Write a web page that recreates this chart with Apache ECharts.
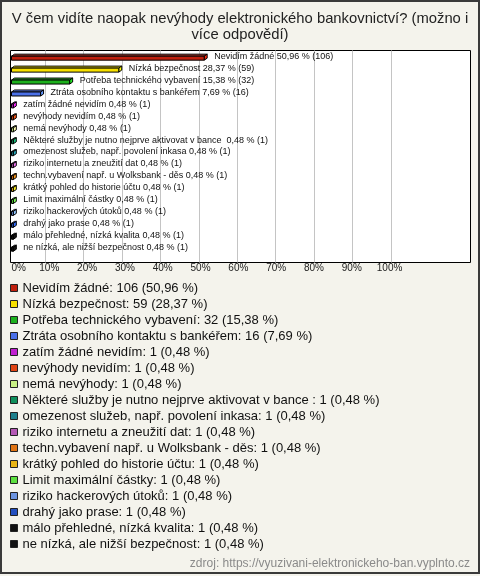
<!DOCTYPE html>
<html><head><meta charset="utf-8">
<script src="https://cdn.jsdelivr.net/npm/echarts@6/dist/echarts.min.js"></script>
<style>html,body{margin:0;padding:0;background:#f4f3ec}#c{width:480px;height:576px}</style>
</head><body><div id="c"></div>
<script>
const titleText = 'V čem vidíte naopak nevýhody elektronického bankovnictví? (možno i\nvíce odpovědí)';
const categories = [
  'Nevidím žádné', 'Nízká bezpečnost', 'Potřeba technického vybavení', 'Ztráta osobního kontaktu s bankéřem',
  'zatím žádné nevidím', 'nevýhody nevidím', 'nemá nevýhody', 'Některé služby je nutno nejprve aktivovat v bance ',
  'omezenost služeb, např. povolení inkasa', 'riziko internetu a zneužití dat', 'techn.vybavení např. u Wolksbank - děs',
  'krátký pohled do historie účtu', 'Limit maximální částky', 'riziko hackerových útoků', 'drahý jako prase',
  'málo přehledné, nízká kvalita', 'ne nízká, ale nižší bezpečnost'
];
const counts = [106, 59, 32, 16, 1, 1, 1, 1, 1, 1, 1, 1, 1, 1, 1, 1, 1];
const percents = [50.96, 28.37, 15.38, 7.69, 0.48, 0.48, 0.48, 0.48, 0.48, 0.48, 0.48, 0.48, 0.48, 0.48, 0.48, 0.48, 0.48];
const colors = ['#c0200e', '#f7e000', '#1cb01c', '#4a70e8', '#c020d0', '#e04414', '#c8f084', '#10905c',
  '#1e7f8c', '#b458b4', '#e07414', '#e8b414', '#5ce040', '#6c94e0', '#2450c0', '#111111', '#111111'];
const tickValues = [0, 10, 20, 30, 40, 50, 60, 70, 80, 90, 100];
const sourceText = 'zdroj: https://vyuzivani-elektronickeho-ban.vyplnto.cz';

const FONT = '"Liberation Sans", Arial, sans-serif';
const fmtPct = v => v.toFixed(2).replace('.', ',');

function renderBar(params, api) {
  const v = api.value(0), ci = api.value(1);
  const p0 = api.coord([0, ci]);
  const p1 = api.coord([v, ci]);
  const yc = p0[1];
  const x0 = p0[0], x1 = p1[0];
  const dx = 3, dy = 2, h = 4;
  const yTop = yc - 0.8, yBot = yTop + h;
  const col = api.visual('color');
  const light = echarts.color.lift(col, 0.15);
  const dark = echarts.color.lift(col, -0.35);
  const st = {stroke: '#000', lineWidth: 1};
  const i = params.seriesIndex;
  return {
    type: 'group',
    children: [
      {type: 'polygon', shape: {points: [[x0, yTop], [x0 + dx, yTop - dy], [x1 + dx, yTop - dy], [x1, yTop]]}, style: Object.assign({fill: light}, st)},
      {type: 'polygon', shape: {points: [[x1, yTop], [x1 + dx, yTop - dy], [x1 + dx, yBot - dy], [x1, yBot]]}, style: Object.assign({fill: dark}, st)},
      {type: 'rect', shape: {x: x0, y: yTop, width: x1 - x0, height: h}, style: Object.assign({fill: col}, st)},
      {type: 'text', x: x1 + dx + 7, y: yc - 0.5, style: {
        text: categories[i] + ' ' + fmtPct(percents[i]) + ' % (' + counts[i] + ')',
        fill: '#111', font: '9px ' + FONT, verticalAlign: 'middle', align: 'left'}}
    ]
  };
}

const series = categories.map((name, i) => ({
  name: name,
  type: 'custom',
  xAxisIndex: 0, yAxisIndex: 0,
  color: colors[i],
  itemStyle: {color: colors[i]},
  renderItem: renderBar,
  data: [[percents[i], i]],
  z: 5
}));

const chart = echarts.init(document.getElementById('c'), null, {renderer: 'canvas'});
chart.setOption({
  animation: false,
  backgroundColor: '#f4f3ec',
  title: {
    text: titleText, left: 'center', top: 6,
    textStyle: {fontSize: 14.8, fontWeight: 'normal', color: '#222', fontFamily: FONT, lineHeight: 16}
  },
  graphic: [
    {type: 'rect', z: -100, shape: {x: 10.5, y: 50.5, width: 460, height: 212}, style: {fill: '#fff', stroke: '#000', lineWidth: 1}},
    {type: 'rect', z: 100, shape: {x: 1, y: 1, width: 478, height: 572}, style: {fill: 'none', stroke: '#3a3a3a', lineWidth: 2}},
    {type: 'text', z: 100, x: 470, y: 564, style: {text: sourceText, fill: '#8a8a8a', font: '12px ' + FONT, align: 'right', verticalAlign: 'middle'}}
  ],
  grid: [
    {left: 11.5, width: 459, top: 51, height: 203},
    {left: 6.6, width: 384.4, top: 50.5, height: 212}
  ],
  xAxis: [
    {
      type: 'value', gridIndex: 0, min: 0, max: 121.4, interval: 10,
      axisLine: {show: false}, axisTick: {show: false}, splitLine: {show: false},
      axisLabel: {
        margin: 9, fontSize: 10, color: '#222', fontFamily: FONT, alignMinLabel: 'left',
        formatter: v => (tickValues.indexOf(v) >= 0 ? v + '%' : '')
      }
    },
    {
      type: 'value', gridIndex: 1, min: 0, max: 100, interval: 10,
      axisLine: {show: false}, axisTick: {show: false}, axisLabel: {show: false},
      splitLine: {show: true, showMinLine: false, lineStyle: {color: '#c4c4c4', width: 1}}
    }
  ],
  yAxis: [
    {type: 'category', gridIndex: 0, inverse: true, data: categories.map((c, i) => i), show: false},
    {type: 'value', gridIndex: 1, show: false, splitLine: {show: false}}
  ],
  legend: {
    orient: 'vertical', left: 10, top: 280, padding: 0, itemWidth: 7, itemHeight: 7, itemGap: 0,
    icon: 'rect', selectedMode: false,
    itemStyle: {borderColor: '#222', borderWidth: 1},
    textStyle: {fontSize: 13, color: '#111', fontFamily: FONT, lineHeight: 16},
    data: categories,
    formatter: name => {
      const i = categories.indexOf(name);
      return name + ': ' + counts[i] + ' (' + fmtPct(percents[i]) + ' %)';
    }
  },
  series: series
});
</script></body></html>
